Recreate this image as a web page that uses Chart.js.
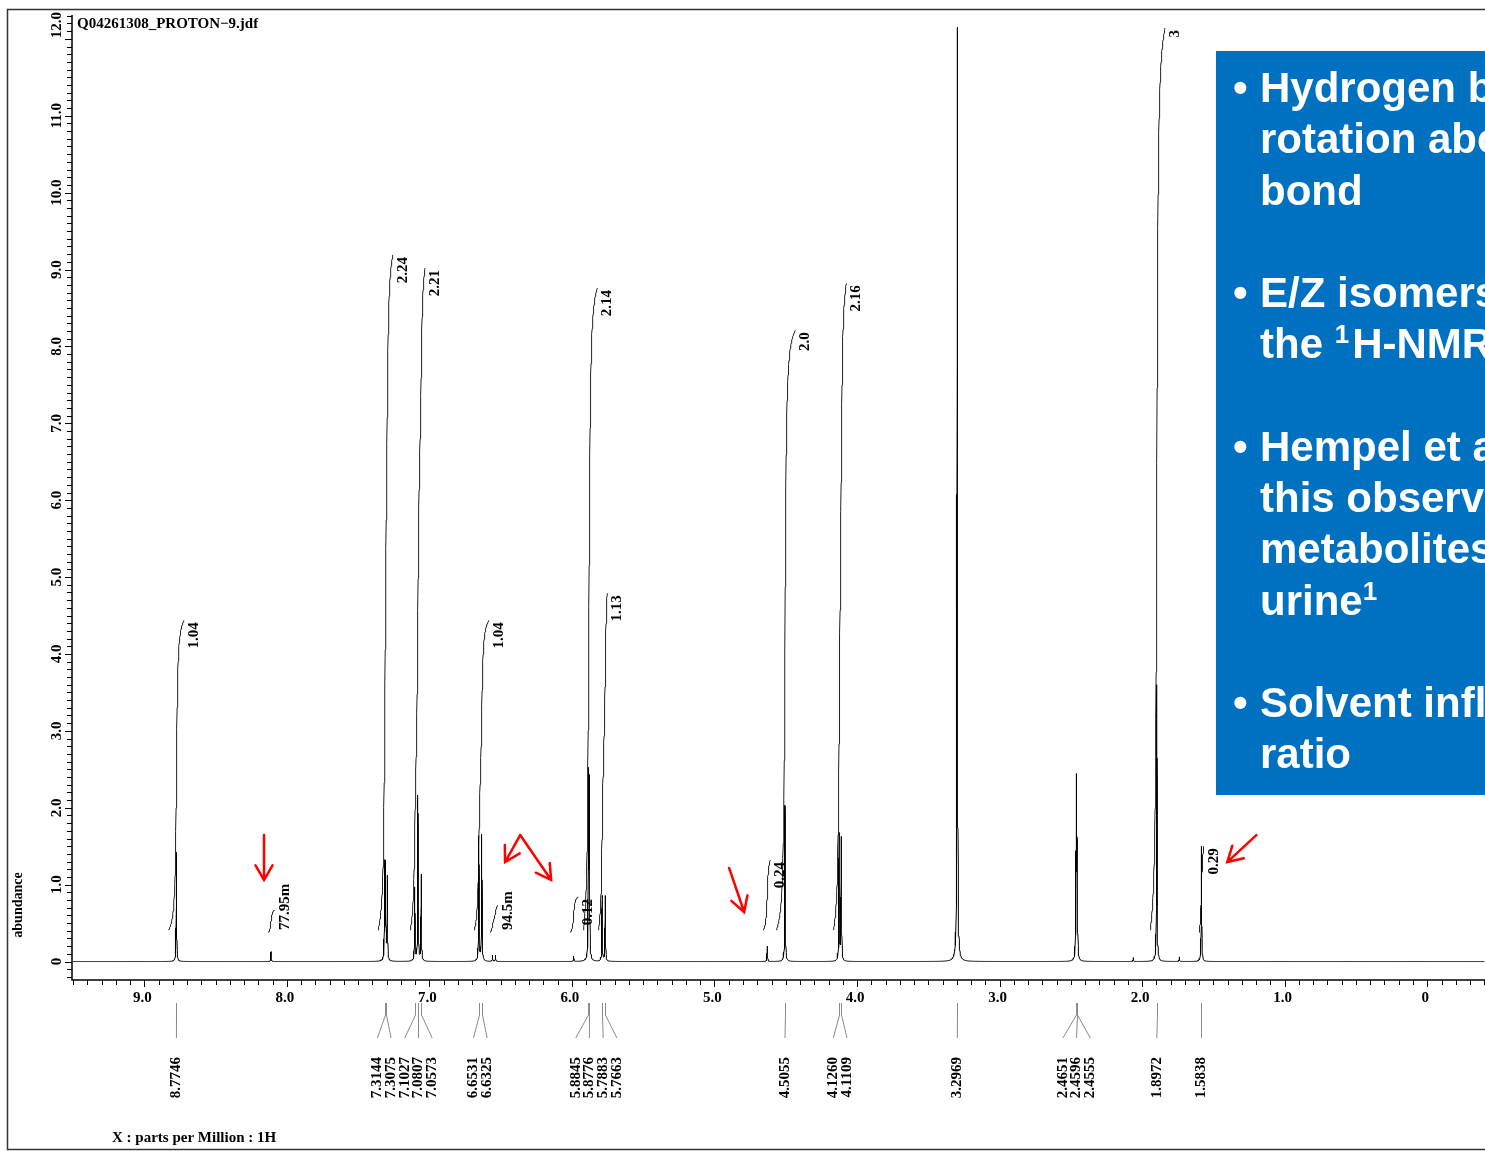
<!DOCTYPE html>
<html>
<head>
<meta charset="utf-8">
<title>Q04261308_PROTON-9</title>
<script src="https://cdn.jsdelivr.net/npm/chart.js@4.4.0/dist/chart.umd.min.js"></script>
<style>
    html, body { margin: 0; padding: 0; background: #fff; }
    #wrap { position: relative; width: 1485px; height: 1151px; }
</style>
</head>
<body>
<div id="wrap"><canvas id="nmrChart"></canvas></div>
<script>
// SPECTRUM DATA (ppm / abundance)
var peakPpm    = [8.7746, 8.111, 7.3144, 7.3075, 7.295, 7.1027, 7.0807, 7.0573, 6.6531, 6.6325, 6.557, 6.536, 5.988, 5.8845, 5.8776, 5.7883, 5.7663, 4.630, 4.5055, 4.1260, 4.1109, 3.2969, 2.4651, 2.4596, 2.4555, 2.062, 1.8972, 1.739, 1.5838];
var peakHeight = [1.42,   0.13,  1.22,   1.20,   1.08,  0.95,   2.15,   1.12,   1.62,   1.64,   0.08,  0.08,  0.07,  2.35,   2.25,   0.85,   0.85,   0.20,  2.03,   1.65,   1.60,   12.15,  1.15,   2.10,   1.10,   0.05,  3.60,   0.06,  1.50];

// integral regions
var integFrom = [8.83, 8.13, 7.36, 7.135, 6.686, 6.575, 6.012, 5.92, 5.815, 4.658, 4.566, 4.166, 1.944, 1.601];
var integTo   = [8.72, 8.085, 7.256, 7.03, 6.581, 6.52, 5.956, 5.822, 5.752, 4.608, 4.433, 4.075, 1.839, 1.566];
var integLow  = [0.41, 0.38, 0.41, 0.41, 0.41, 0.38, 0.38, 0.41, 0.41, 0.41, 0.41, 0.41, 0.41, 0.38];
var integHigh = [4.44, 0.67, 9.19, 9.02, 4.44, 0.73, 0.84, 8.76, 4.79, 1.32, 8.21, 8.82, 12.14, 1.50];
var integText = ['1.04', '77.95m', '2.24', '2.21', '1.04', '94.5m', '0.12', '2.14', '1.13', '0.24', '2.0', '2.16', '3', '0.29'];

// peak list printed under the axis
var listPpm = [8.7746, 7.3144, 7.3075, 7.1027, 7.0807, 7.0573, 6.6531, 6.6325, 5.8845, 5.8776, 5.7883, 5.7663, 4.5055, 4.1260, 4.1109, 3.2969, 2.4651, 2.4596, 2.4555, 1.8972, 1.5838];

var xTickValues = [9, 8, 7, 6, 5, 4, 3, 2, 1, 0];
var xTickLabels = ['9.0', '8.0', '7.0', '6.0', '5.0', '4.0', '3.0', '2.0', '1.0', '0'];
var yTickValues = [0, 1, 2, 3, 4, 5, 6, 7, 8, 9, 10, 11, 12];
var yTickLabels = ['0', '1.0', '2.0', '3.0', '4.0', '5.0', '6.0', '7.0', '8.0', '9.0', '10.0', '11.0', '12.0'];

var titleText = 'Q04261308_PROTON\u22129.jdf';
var xTitle = 'X : parts per Million : 1H';
var yTitle = 'abundance';

// red arrows [fromPpm, fromAbund, toPpm, toAbund]
var arrowMarks = [
    [8.160, 1.645, 8.160, 1.06],
    [6.363, 1.645, 6.469, 1.294],
    [6.363, 1.645, 6.146, 1.06],
    [4.897, 1.216, 4.792, 0.644],
    [1.199, 1.645, 1.403, 1.294]
];

// slide text box (^ marks a superscript)
var noteGroups = [
    ['Hydrogen b', 'rotation abo', 'bond'],
    ['E/Z isomers', 'the ^1^H-NMR'],
    ['Hempel et a', 'this observ', 'metabolites', 'urine^1'],
    ['Solvent infl', 'ratio']
];

var LINE_W = 0.002;   // lorentzian half width, ppm
var INT_W = 0.007;    // smoothing of integral curves, ppm
var SERIF = '"Liberation Serif", "Times New Roman", serif';
var SANS = '"Liberation Sans", Arial, sans-serif';

function specAt(x) {
    var s = 0;
    for (var i = 0; i < peakPpm.length; i++) {
        var d = (x - peakPpm[i]) / LINE_W;
        s += peakHeight[i] / (1 + d * d);
    }
    return s;
}

function buildSpectrum() {
    var xs = [];
    for (var x = -0.40; x <= 9.50; x += 0.004) xs.push(+x.toFixed(4));
    var offs = [0, 0.0005, 0.001, 0.0015, 0.002, 0.003, 0.004, 0.006, 0.008, 0.012, 0.018, 0.025];
    peakPpm.forEach(function (p) {
        offs.forEach(function (o) { xs.push(p + o); if (o) xs.push(p - o); });
    });
    xs.sort(function (a, b) { return a - b; });
    var pts = [];
    var last = null;
    xs.forEach(function (x) {
        if (last !== null && Math.abs(x - last) < 0.0002) return;
        last = x;
        pts.push({ x: x, y: specAt(x) });
    });
    return pts;
}

function buildIntegral(i) {
    var from = integFrom[i], to = integTo[i];
    function F(x) {
        var s = 0;
        for (var k = 0; k < peakPpm.length; k++) {
            if (peakPpm[k] <= from && peakPpm[k] >= to) s += peakHeight[k] * Math.atan((peakPpm[k] - x) / INT_W);
        }
        return s;
    }
    var f0 = F(from), f1 = F(to);
    var pts = [];
    var n = 60;
    for (var j = 0; j <= n; j++) {
        var x = from - (from - to) * j / n;
        var t = (F(x) - f0) / (f1 - f0);
        pts.push({ x: x, y: integLow[i] + (integHigh[i] - integLow[i]) * t });
    }
    return pts;
}

function vText(ctx, text, x, y, align) {
    ctx.save();
    ctx.translate(x, y);
    ctx.rotate(-Math.PI / 2);
    ctx.textAlign = align;
    ctx.textBaseline = 'middle';
    ctx.fillText(text, 0, 0);
    ctx.restore();
}

function drawArrow(ctx, x1, y1, x2, y2) {
    var ang = Math.atan2(y2 - y1, x2 - x1), L = 17, w = Math.PI / 6;
    ctx.beginPath();
    ctx.moveTo(x1, y1);
    ctx.lineTo(x2, y2);
    ctx.moveTo(x2 - L * Math.cos(ang - w), y2 - L * Math.sin(ang - w));
    ctx.lineTo(x2, y2);
    ctx.lineTo(x2 - L * Math.cos(ang + w), y2 - L * Math.sin(ang + w));
    ctx.stroke();
}

function spreadLabels(pxs, gap) {
    var groups = pxs.map(function (p, i) { return { members: [i], center: p }; });
    var merged = true;
    while (merged) {
        merged = false;
        for (var g = 0; g < groups.length - 1; g++) {
            var a = groups[g], b = groups[g + 1];
            if (a.center + a.members.length * gap / 2 > b.center - b.members.length * gap / 2) {
                var all = a.members.concat(b.members);
                var sum = 0;
                all.forEach(function (m) { sum += pxs[m]; });
                groups.splice(g, 2, { members: all, center: sum / all.length });
                merged = true;
                break;
            }
        }
    }
    var out = [];
    groups.forEach(function (gr) {
        gr.members.forEach(function (m, j) {
            out[m] = gr.center + (j - (gr.members.length - 1) / 2) * gap;
        });
    });
    return out;
}

var nmrOverlay = {
    id: 'nmrOverlay',
    beforeDraw: function (chart) {
        var ctx = chart.ctx;
        ctx.save();
        ctx.fillStyle = '#fff';
        ctx.fillRect(0, 0, chart.width, chart.height);
        ctx.restore();
    },
    afterDraw: function (chart) {
        var ctx = chart.ctx, xs = chart.scales.x, ys = chart.scales.y, area = chart.chartArea;
        ctx.save();

        // outer frame
        ctx.strokeStyle = '#333';
        ctx.lineWidth = 1.5;
        ctx.beginPath();
        ctx.moveTo(chart.width + 2, 9.5);
        ctx.lineTo(7.5, 9.5);
        ctx.lineTo(7.5, 1149.5);
        ctx.lineTo(chart.width + 2, 1149.5);
        ctx.stroke();

        // axes
        ctx.strokeStyle = '#000';
        ctx.lineWidth = 1.5;
        ctx.beginPath();
        ctx.moveTo(area.left, area.top);
        ctx.lineTo(area.left, area.bottom);
        ctx.lineTo(area.right + 2, area.bottom);
        ctx.stroke();

        ctx.lineWidth = 1;
        ctx.beginPath();
        for (var k = -2; k <= 123; k++) {
            var py = Math.round(ys.getPixelForValue(k / 10)) + 0.5;
            if (py < area.top || py > area.bottom) continue;
            ctx.moveTo(area.left, py);
            ctx.lineTo(area.left - (k % 10 === 0 ? 7 : 5), py);
        }
        for (var m = -4; m <= 95; m++) {
            var px = Math.round(xs.getPixelForValue(m / 10)) + 0.5;
            if (px < area.left || px > area.right) continue;
            ctx.moveTo(px, area.bottom);
            ctx.lineTo(px, area.bottom + (m % 10 === 0 ? 7 : 5));
        }
        ctx.stroke();

        // tick labels
        ctx.fillStyle = '#000';
        ctx.font = 'bold 15px ' + SERIF;
        yTickValues.forEach(function (v, i) {
            var py = ys.getPixelForValue(v);
            if (i === yTickValues.length - 1) vText(ctx, yTickLabels[i], 57, area.top - 3, 'right');
            else vText(ctx, yTickLabels[i], 57, py, 'center');
        });
        ctx.textAlign = 'center';
        ctx.textBaseline = 'middle';
        xTickValues.forEach(function (v, i) {
            ctx.fillText(xTickLabels[i], xs.getPixelForValue(v) - 2, 998);
        });

        // titles
        ctx.textAlign = 'left';
        ctx.fillText(titleText, 77, 24);
        ctx.fillText(xTitle, 112, 1138);
        ctx.font = 'bold 14px ' + SERIF;
        vText(ctx, yTitle, 18, 905, 'center');

        // integral labels
        ctx.font = 'bold 15px ' + SERIF;
        integText.forEach(function (t, i) {
            var lx = xs.getPixelForValue(integTo[i]) + 10;
            var w = ctx.measureText(t).width;
            var topY = Math.min(ys.getPixelForValue(integHigh[i]) + 2, 930 - w);
            vText(ctx, t, lx, topY, 'right');
        });

        // peak list under the axis
        var peakPx = listPpm.map(function (p) { return xs.getPixelForValue(p); });
        var labX = spreadLabels(peakPx, 13.7);
        ctx.strokeStyle = '#8a8a8a';
        ctx.lineWidth = 1;
        ctx.beginPath();
        peakPx.forEach(function (p, i) {
            var x0 = Math.round(p) + 0.5;
            ctx.moveTo(x0, 1003);
            ctx.lineTo(x0, 1015);
            ctx.lineTo(labX[i], 1038);
        });
        ctx.stroke();
        ctx.fillStyle = '#000';
        listPpm.forEach(function (p, i) {
            vText(ctx, p.toFixed(4), labX[i], 1057, 'right');
        });

        // red arrows
        ctx.strokeStyle = '#ff0000';
        ctx.lineWidth = 2.5;
        ctx.lineCap = 'round';
        arrowMarks.forEach(function (a) {
            drawArrow(ctx, xs.getPixelForValue(a[0]), ys.getPixelForValue(a[1]),
                xs.getPixelForValue(a[2]), ys.getPixelForValue(a[3]));
        });

        // slide text box
        ctx.fillStyle = '#0070c0';
        ctx.fillRect(1216, 51, 320, 744);
        ctx.fillStyle = '#fff';
        ctx.textBaseline = 'alphabetic';
        ctx.textAlign = 'left';
        var slot = 0;
        noteGroups.forEach(function (grp) {
            grp.forEach(function (line, li) {
                var base = 102 + slot * 51.25;
                if (li === 0) {
                    ctx.font = 'bold 42px ' + SANS;
                    ctx.fillText('\u2022', 1233, base);
                }
                var parts = line.split('^');
                var cx = 1260;
                parts.forEach(function (seg, si) {
                    if (!seg) return;
                    var sup = si % 2 === 1;
                    ctx.font = sup ? 'bold 26px ' + SANS : 'bold 42px ' + SANS;
                    ctx.fillText(seg, cx, sup ? base - 15 : base);
                    cx += ctx.measureText(seg).width + (sup ? 3 : 0);
                });
                slot++;
            });
            slot++;
        });

        ctx.restore();
    }
};

var datasets = [{
    data: buildSpectrum(),
    borderColor: '#000',
    borderWidth: 1,
    pointRadius: 0,
    tension: 0
}];
integText.forEach(function (t, i) {
    datasets.push({
        data: buildIntegral(i),
        borderColor: '#222',
        borderWidth: 1,
        pointRadius: 0,
        tension: 0
    });
});

var ctx = document.getElementById('nmrChart').getContext('2d');
window.nmrChart = new Chart(ctx, {
    type: 'line',
    data: { datasets: datasets },
    options: {
        responsive: true,
        maintainAspectRatio: false,
        devicePixelRatio: 1,
        animation: false,
        parsing: false,
        normalized: true,
        layout: { padding: { left: 72, right: 0, top: 15, bottom: 171 } },
        plugins: { legend: { display: false }, tooltip: { enabled: false } },
        scales: {
            x: { type: 'linear', reverse: true, min: -0.405, max: 9.507, display: false },
            y: { type: 'linear', min: -0.24, max: 12.31, display: false }
        }
    },
    plugins: [nmrOverlay]
});
</script>
</body>
</html>
